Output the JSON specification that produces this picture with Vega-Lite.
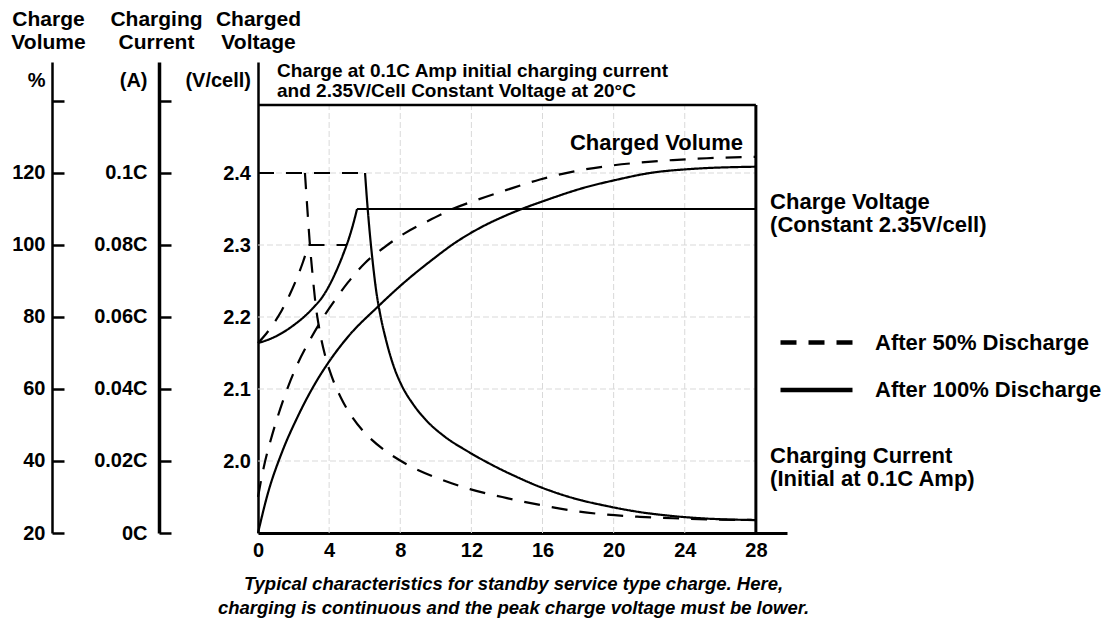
{
  "$schema": "https://vega.github.io/schema/vega-lite/v6.json",
  "width": 529,
  "height": 471,
  "autosize": {"type": "none"},
  "padding": {"left": 258, "top": 62, "right": 325, "bottom": 96},
  "background": "white",
  "config": {
    "view": {"stroke": null},
    "font": "Liberation Sans",
    "axis": {"domainColor": "black", "tickColor": "black", "labelColor": "black", "titleColor": "black", "grid": false, "labelFont": "Liberation Sans", "titleFont": "Liberation Sans", "labelFontWeight": "bold", "titleFontWeight": "bold", "labelOverlap": false},
    "text": {"font": "Liberation Sans", "color": "black", "fontWeight": "bold"}
  },
  "datasets": {
    "curves": [
      {"quantity": "Charge Voltage", "discharge": "After 100% Discharge", "segment": "rise", "hours": 0, "value": 2.1639},
      {"quantity": "Charge Voltage", "discharge": "After 100% Discharge", "segment": "rise", "hours": 0.67, "value": 2.1694},
      {"quantity": "Charge Voltage", "discharge": "After 100% Discharge", "segment": "rise", "hours": 1.35, "value": 2.1778},
      {"quantity": "Charge Voltage", "discharge": "After 100% Discharge", "segment": "rise", "hours": 2.02, "value": 2.1889},
      {"quantity": "Charge Voltage", "discharge": "After 100% Discharge", "segment": "rise", "hours": 2.64, "value": 2.2014},
      {"quantity": "Charge Voltage", "discharge": "After 100% Discharge", "segment": "rise", "hours": 3.15, "value": 2.2139},
      {"quantity": "Charge Voltage", "discharge": "After 100% Discharge", "segment": "rise", "hours": 3.66, "value": 2.2292},
      {"quantity": "Charge Voltage", "discharge": "After 100% Discharge", "segment": "rise", "hours": 4.11, "value": 2.2486},
      {"quantity": "Charge Voltage", "discharge": "After 100% Discharge", "segment": "rise", "hours": 4.5, "value": 2.2694},
      {"quantity": "Charge Voltage", "discharge": "After 100% Discharge", "segment": "rise", "hours": 4.84, "value": 2.2903},
      {"quantity": "Charge Voltage", "discharge": "After 100% Discharge", "segment": "rise", "hours": 5.12, "value": 2.3097},
      {"quantity": "Charge Voltage", "discharge": "After 100% Discharge", "segment": "rise", "hours": 5.37, "value": 2.3306},
      {"quantity": "Charge Voltage", "discharge": "After 100% Discharge", "segment": "rise", "hours": 5.57, "value": 2.35},
      {"quantity": "Charge Voltage", "discharge": "After 100% Discharge", "segment": "flat", "hours": 5.57, "value": 2.35},
      {"quantity": "Charge Voltage", "discharge": "After 100% Discharge", "segment": "flat", "hours": 28, "value": 2.35},
      {"quantity": "Charge Voltage", "discharge": "After 50% Discharge", "segment": "rise", "hours": 0, "value": 2.1639},
      {"quantity": "Charge Voltage", "discharge": "After 50% Discharge", "segment": "rise", "hours": 0.45, "value": 2.1764},
      {"quantity": "Charge Voltage", "discharge": "After 50% Discharge", "segment": "rise", "hours": 0.9, "value": 2.1917},
      {"quantity": "Charge Voltage", "discharge": "After 50% Discharge", "segment": "rise", "hours": 1.35, "value": 2.2097},
      {"quantity": "Charge Voltage", "discharge": "After 50% Discharge", "segment": "rise", "hours": 1.8, "value": 2.2319},
      {"quantity": "Charge Voltage", "discharge": "After 50% Discharge", "segment": "rise", "hours": 2.19, "value": 2.2542},
      {"quantity": "Charge Voltage", "discharge": "After 50% Discharge", "segment": "rise", "hours": 2.53, "value": 2.2764},
      {"quantity": "Charge Voltage", "discharge": "After 50% Discharge", "segment": "rise", "hours": 2.84, "value": 2.3},
      {"quantity": "Charge Voltage", "discharge": "After 50% Discharge", "segment": "flat", "hours": 2.84, "value": 2.3},
      {"quantity": "Charge Voltage", "discharge": "After 50% Discharge", "segment": "flat", "hours": 4.96, "value": 2.3},

      {"quantity": "Charging Current", "discharge": "After 50% Discharge", "segment": "flat", "hours": 0, "value": 0.1},
      {"quantity": "Charging Current", "discharge": "After 50% Discharge", "segment": "flat", "hours": 6.02, "value": 0.1},
      {"quantity": "Charging Current", "discharge": "After 50% Discharge", "segment": "decay", "hours": 2.64, "value": 0.1},
      {"quantity": "Charging Current", "discharge": "After 50% Discharge", "segment": "decay", "hours": 2.78, "value": 0.0897},
      {"quantity": "Charging Current", "discharge": "After 50% Discharge", "segment": "decay", "hours": 2.92, "value": 0.08},
      {"quantity": "Charging Current", "discharge": "After 50% Discharge", "segment": "decay", "hours": 3.07, "value": 0.0717},
      {"quantity": "Charging Current", "discharge": "After 50% Discharge", "segment": "decay", "hours": 3.23, "value": 0.0639},
      {"quantity": "Charging Current", "discharge": "After 50% Discharge", "segment": "decay", "hours": 3.46, "value": 0.0564},
      {"quantity": "Charging Current", "discharge": "After 50% Discharge", "segment": "decay", "hours": 3.77, "value": 0.0494},
      {"quantity": "Charging Current", "discharge": "After 50% Discharge", "segment": "decay", "hours": 4.16, "value": 0.0433},
      {"quantity": "Charging Current", "discharge": "After 50% Discharge", "segment": "decay", "hours": 4.67, "value": 0.0375},
      {"quantity": "Charging Current", "discharge": "After 50% Discharge", "segment": "decay", "hours": 5.34, "value": 0.0319},
      {"quantity": "Charging Current", "discharge": "After 50% Discharge", "segment": "decay", "hours": 6.19, "value": 0.0269},
      {"quantity": "Charging Current", "discharge": "After 50% Discharge", "segment": "decay", "hours": 7.26, "value": 0.0225},
      {"quantity": "Charging Current", "discharge": "After 50% Discharge", "segment": "decay", "hours": 8.55, "value": 0.0186},
      {"quantity": "Charging Current", "discharge": "After 50% Discharge", "segment": "decay", "hours": 10.07, "value": 0.0153},
      {"quantity": "Charging Current", "discharge": "After 50% Discharge", "segment": "decay", "hours": 11.92, "value": 0.0122},
      {"quantity": "Charging Current", "discharge": "After 50% Discharge", "segment": "decay", "hours": 14.0, "value": 0.0097},
      {"quantity": "Charging Current", "discharge": "After 50% Discharge", "segment": "decay", "hours": 15.86, "value": 0.0078},
      {"quantity": "Charging Current", "discharge": "After 50% Discharge", "segment": "decay", "hours": 17.72, "value": 0.0062},
      {"quantity": "Charging Current", "discharge": "After 50% Discharge", "segment": "decay", "hours": 19.61, "value": 0.0051},
      {"quantity": "Charging Current", "discharge": "After 50% Discharge", "segment": "decay", "hours": 21.48, "value": 0.0045},
      {"quantity": "Charging Current", "discharge": "After 50% Discharge", "segment": "decay", "hours": 23.34, "value": 0.0041},
      {"quantity": "Charging Current", "discharge": "After 50% Discharge", "segment": "decay", "hours": 25.24, "value": 0.0038},
      {"quantity": "Charging Current", "discharge": "After 50% Discharge", "segment": "decay", "hours": 28, "value": 0.0036},
      {"quantity": "Charging Current", "discharge": "After 100% Discharge", "segment": "decay", "hours": 6.02, "value": 0.1},
      {"quantity": "Charging Current", "discharge": "After 100% Discharge", "segment": "decay", "hours": 6.13, "value": 0.0925},
      {"quantity": "Charging Current", "discharge": "After 100% Discharge", "segment": "decay", "hours": 6.27, "value": 0.0842},
      {"quantity": "Charging Current", "discharge": "After 100% Discharge", "segment": "decay", "hours": 6.44, "value": 0.0758},
      {"quantity": "Charging Current", "discharge": "After 100% Discharge", "segment": "decay", "hours": 6.64, "value": 0.0675},
      {"quantity": "Charging Current", "discharge": "After 100% Discharge", "segment": "decay", "hours": 6.89, "value": 0.0603},
      {"quantity": "Charging Current", "discharge": "After 100% Discharge", "segment": "decay", "hours": 7.2, "value": 0.0536},
      {"quantity": "Charging Current", "discharge": "After 100% Discharge", "segment": "decay", "hours": 7.59, "value": 0.0469},
      {"quantity": "Charging Current", "discharge": "After 100% Discharge", "segment": "decay", "hours": 8.1, "value": 0.0408},
      {"quantity": "Charging Current", "discharge": "After 100% Discharge", "segment": "decay", "hours": 8.72, "value": 0.0358},
      {"quantity": "Charging Current", "discharge": "After 100% Discharge", "segment": "decay", "hours": 9.5, "value": 0.0311},
      {"quantity": "Charging Current", "discharge": "After 100% Discharge", "segment": "decay", "hours": 10.52, "value": 0.0267},
      {"quantity": "Charging Current", "discharge": "After 100% Discharge", "segment": "decay", "hours": 11.75, "value": 0.0228},
      {"quantity": "Charging Current", "discharge": "After 100% Discharge", "segment": "decay", "hours": 13.05, "value": 0.0192},
      {"quantity": "Charging Current", "discharge": "After 100% Discharge", "segment": "decay", "hours": 14.45, "value": 0.0158},
      {"quantity": "Charging Current", "discharge": "After 100% Discharge", "segment": "decay", "hours": 15.86, "value": 0.0128},
      {"quantity": "Charging Current", "discharge": "After 100% Discharge", "segment": "decay", "hours": 17.72, "value": 0.0097},
      {"quantity": "Charging Current", "discharge": "After 100% Discharge", "segment": "decay", "hours": 19.61, "value": 0.0075},
      {"quantity": "Charging Current", "discharge": "After 100% Discharge", "segment": "decay", "hours": 21.48, "value": 0.0058},
      {"quantity": "Charging Current", "discharge": "After 100% Discharge", "segment": "decay", "hours": 23.34, "value": 0.0047},
      {"quantity": "Charging Current", "discharge": "After 100% Discharge", "segment": "decay", "hours": 25.24, "value": 0.004},
      {"quantity": "Charging Current", "discharge": "After 100% Discharge", "segment": "decay", "hours": 28, "value": 0.0036},

      {"quantity": "Charged Volume", "discharge": "After 100% Discharge", "segment": "main", "hours": 0, "value": 20},
      {"quantity": "Charged Volume", "discharge": "After 100% Discharge", "segment": "main", "hours": 0.56, "value": 31.1},
      {"quantity": "Charged Volume", "discharge": "After 100% Discharge", "segment": "main", "hours": 1.33, "value": 42.2},
      {"quantity": "Charged Volume", "discharge": "After 100% Discharge", "segment": "main", "hours": 2.25, "value": 52.5},
      {"quantity": "Charged Volume", "discharge": "After 100% Discharge", "segment": "main", "hours": 3.21, "value": 61.5},
      {"quantity": "Charged Volume", "discharge": "After 100% Discharge", "segment": "main", "hours": 3.94, "value": 67.2},
      {"quantity": "Charged Volume", "discharge": "After 100% Discharge", "segment": "main", "hours": 5.06, "value": 74.5},
      {"quantity": "Charged Volume", "discharge": "After 100% Discharge", "segment": "main", "hours": 6.75, "value": 82.9},
      {"quantity": "Charged Volume", "discharge": "After 100% Discharge", "segment": "main", "hours": 8.27, "value": 89.8},
      {"quantity": "Charged Volume", "discharge": "After 100% Discharge", "segment": "main", "hours": 9.77, "value": 95.8},
      {"quantity": "Charged Volume", "discharge": "After 100% Discharge", "segment": "main", "hours": 11.08, "value": 100.6},
      {"quantity": "Charged Volume", "discharge": "After 100% Discharge", "segment": "main", "hours": 12.5, "value": 104.8},
      {"quantity": "Charged Volume", "discharge": "After 100% Discharge", "segment": "main", "hours": 13.99, "value": 108.3},
      {"quantity": "Charged Volume", "discharge": "After 100% Discharge", "segment": "main", "hours": 16.4, "value": 112.8},
      {"quantity": "Charged Volume", "discharge": "After 100% Discharge", "segment": "main", "hours": 18.26, "value": 115.8},
      {"quantity": "Charged Volume", "discharge": "After 100% Discharge", "segment": "main", "hours": 20.15, "value": 118.1},
      {"quantity": "Charged Volume", "discharge": "After 100% Discharge", "segment": "main", "hours": 22.04, "value": 120.0},
      {"quantity": "Charged Volume", "discharge": "After 100% Discharge", "segment": "main", "hours": 24.3, "value": 121.1},
      {"quantity": "Charged Volume", "discharge": "After 100% Discharge", "segment": "main", "hours": 28, "value": 121.75},
      {"quantity": "Charged Volume", "discharge": "After 50% Discharge", "segment": "main", "hours": 0, "value": 30.0},
      {"quantity": "Charged Volume", "discharge": "After 50% Discharge", "segment": "main", "hours": 0.22, "value": 35.8},
      {"quantity": "Charged Volume", "discharge": "After 50% Discharge", "segment": "main", "hours": 0.39, "value": 39.7},
      {"quantity": "Charged Volume", "discharge": "After 50% Discharge", "segment": "main", "hours": 0.67, "value": 45.0},
      {"quantity": "Charged Volume", "discharge": "After 50% Discharge", "segment": "main", "hours": 1.12, "value": 52.5},
      {"quantity": "Charged Volume", "discharge": "After 50% Discharge", "segment": "main", "hours": 1.69, "value": 60.6},
      {"quantity": "Charged Volume", "discharge": "After 50% Discharge", "segment": "main", "hours": 2.25, "value": 67.2},
      {"quantity": "Charged Volume", "discharge": "After 50% Discharge", "segment": "main", "hours": 2.92, "value": 73.6},
      {"quantity": "Charged Volume", "discharge": "After 50% Discharge", "segment": "main", "hours": 3.58, "value": 79.2},
      {"quantity": "Charged Volume", "discharge": "After 50% Discharge", "segment": "main", "hours": 4.33, "value": 84.7},
      {"quantity": "Charged Volume", "discharge": "After 50% Discharge", "segment": "main", "hours": 5.06, "value": 89.6},
      {"quantity": "Charged Volume", "discharge": "After 50% Discharge", "segment": "main", "hours": 6.02, "value": 95.0},
      {"quantity": "Charged Volume", "discharge": "After 50% Discharge", "segment": "main", "hours": 7.14, "value": 99.5},
      {"quantity": "Charged Volume", "discharge": "After 50% Discharge", "segment": "main", "hours": 8.27, "value": 103.3},
      {"quantity": "Charged Volume", "discharge": "After 50% Discharge", "segment": "main", "hours": 9.77, "value": 107.2},
      {"quantity": "Charged Volume", "discharge": "After 50% Discharge", "segment": "main", "hours": 10.8, "value": 109.7},
      {"quantity": "Charged Volume", "discharge": "After 50% Discharge", "segment": "main", "hours": 12.3, "value": 112.5},
      {"quantity": "Charged Volume", "discharge": "After 50% Discharge", "segment": "main", "hours": 13.99, "value": 115.3},
      {"quantity": "Charged Volume", "discharge": "After 50% Discharge", "segment": "main", "hours": 15.86, "value": 118.2},
      {"quantity": "Charged Volume", "discharge": "After 50% Discharge", "segment": "main", "hours": 17.72, "value": 120.4},
      {"quantity": "Charged Volume", "discharge": "After 50% Discharge", "segment": "main", "hours": 19.61, "value": 121.9},
      {"quantity": "Charged Volume", "discharge": "After 50% Discharge", "segment": "main", "hours": 21.48, "value": 122.9},
      {"quantity": "Charged Volume", "discharge": "After 50% Discharge", "segment": "main", "hours": 23.34, "value": 123.6},
      {"quantity": "Charged Volume", "discharge": "After 50% Discharge", "segment": "main", "hours": 25.24, "value": 124.1},
      {"quantity": "Charged Volume", "discharge": "After 50% Discharge", "segment": "main", "hours": 28, "value": 124.5}
    ],
    "gridHours": [{"hours": 4}, {"hours": 8}, {"hours": 12}, {"hours": 16}, {"hours": 20}, {"hours": 24}],
    "gridVolts": [{"value": 2.0}, {"value": 2.1}, {"value": 2.2}, {"value": 2.3}, {"value": 2.4}]
  },
  "resolve": {"scale": {"y": "independent"}},
  "layer": [
    {
      "layer": [
        {
          "data": {"name": "gridHours"},
          "mark": {"type": "rule", "color": "#d9d9d9", "strokeWidth": 1, "strokeDash": [6, 3]},
          "encoding": {
            "x": {"field": "hours", "type": "quantitative", "scale": {"domain": [0, 29.75], "nice": false, "zero": false}},
            "y": {"datum": 1.9, "type": "quantitative", "scale": {"domain": [1.9, 2.55417], "nice": false, "zero": false}},
            "y2": {"datum": 2.4944}
          }
        },
        {
          "data": {"name": "gridVolts"},
          "mark": {"type": "rule", "color": "#d9d9d9", "strokeWidth": 1, "strokeDash": [6, 3]},
          "encoding": {
            "y": {"field": "value", "type": "quantitative", "scale": {"domain": [1.9, 2.55417], "nice": false, "zero": false}},
            "x": {"datum": 0, "type": "quantitative", "scale": {"domain": [0, 29.75], "nice": false, "zero": false}},
            "x2": {"datum": 28}
          }
        },
        {
          "data": {"values": [{}]},
          "mark": {"type": "rule", "color": "black", "strokeWidth": 2.5},
          "encoding": {
            "x": {"datum": 0, "type": "quantitative", "scale": {"domain": [0, 29.75], "nice": false, "zero": false}},
            "x2": {"datum": 28},
            "y": {"datum": 2.4944, "type": "quantitative", "scale": {"domain": [1.9, 2.55417], "nice": false, "zero": false}}
          }
        },
        {
          "data": {"values": [{}]},
          "mark": {"type": "rule", "color": "black", "strokeWidth": 3},
          "encoding": {
            "x": {"datum": 28, "type": "quantitative", "scale": {"domain": [0, 29.75], "nice": false, "zero": false}},
            "y": {"datum": 1.9, "type": "quantitative", "scale": {"domain": [1.9, 2.55417], "nice": false, "zero": false}},
            "y2": {"datum": 2.4944}
          }
        },
        {
          "data": {"name": "curves"},
          "transform": [{"filter": "datum.quantity === 'Charge Voltage'"}],
          "mark": {"type": "line", "color": "black", "strokeWidth": 2.2, "interpolate": "monotone"},
          "encoding": {
            "x": {
              "field": "hours", "type": "quantitative",
              "scale": {"domain": [0, 29.75], "nice": false, "zero": false},
              "axis": {
                "values": [0, 4, 8, 12, 16, 20, 24, 28], "ticks": false, "grid": false, "labelPadding": 7, "labelFontSize": 20, "labelFlush": false, "domainWidth": 3,
                "title": ["Typical characteristics for standby service type charge. Here,", "charging is continuous and the peak charge voltage must be lower."],
                "titleFont": "Liberation Sans", "titleFontStyle": "italic", "titleFontWeight": "bold", "titleFontSize": 18.5, "titleLineHeight": 24,
                "titleX": 255, "titleY": 41, "titleAlign": "center", "titleBaseline": "top"
              }
            },
            "y": {
              "field": "value", "type": "quantitative",
              "scale": {"domain": [1.9, 2.55417], "nice": false, "zero": false},
              "axis": {
                "orient": "left", "offset": 0, "values": [2.0, 2.1, 2.2, 2.3, 2.4, 2.529],
                "labelExpr": "datum.value > 2.5 ? '(V/cell)' : format(datum.value, '.1f')",
                "ticks": false, "grid": false, "labelPadding": 7.5, "labelFontSize": 20, "domainWidth": 2.5,
                "title": ["Charged", "Voltage"], "titleAngle": 0, "titleAlign": "center", "titleBaseline": "top",
                "titleX": 0, "titleY": -54, "titleFontSize": 21, "titleLineHeight": 23
              }
            },
            "strokeDash": {
              "field": "discharge", "type": "nominal",
              "scale": {"domain": ["After 50% Discharge", "After 100% Discharge"], "range": [[16, 12], [1, 0]]},
              "legend": {
                "orient": "none", "legendX": 520, "legendY": 268.5, "title": null, "padding": 0,
                "symbolType": "stroke", "symbolSize": 5184, "symbolStrokeWidth": 4.5, "symbolStrokeColor": "black",
                "labelFont": "Liberation Sans", "labelFontSize": 22, "labelFontWeight": "bold", "labelColor": "black",
                "labelOffset": 20, "rowPadding": 23.5, "clipHeight": 24, "labelLimit": 400
              }
            },
            "detail": {"field": "segment"}
          }
        },
        {
          "data": {"values": [{}]},
          "mark": {"type": "text", "align": "left", "baseline": "top", "fontSize": 19, "lineHeight": 19.5},
          "encoding": {
            "x": {"datum": 1.07, "type": "quantitative", "scale": {"domain": [0, 29.75], "nice": false, "zero": false}},
            "y": {"datum": 2.5536, "type": "quantitative", "scale": {"domain": [1.9, 2.55417], "nice": false, "zero": false}},
            "text": {"value": ["Charge at 0.1C Amp initial charging current", "and 2.35V/Cell Constant Voltage at 20°C"]}
          }
        },
        {
          "data": {"values": [{}]},
          "mark": {"type": "text", "align": "right", "baseline": "alphabetic", "fontSize": 22},
          "encoding": {
            "x": {"datum": 27.28, "type": "quantitative", "scale": {"domain": [0, 29.75], "nice": false, "zero": false}},
            "y": {"datum": 2.4319, "type": "quantitative", "scale": {"domain": [1.9, 2.55417], "nice": false, "zero": false}},
            "text": {"value": "Charged Volume"}
          }
        },
        {
          "data": {"values": [{}]},
          "mark": {"type": "text", "align": "left", "baseline": "top", "fontSize": 22, "lineHeight": 23},
          "encoding": {
            "x": {"datum": 28.8, "type": "quantitative", "scale": {"domain": [0, 29.75], "nice": false, "zero": false}},
            "y": {"datum": 2.3735, "type": "quantitative", "scale": {"domain": [1.9, 2.55417], "nice": false, "zero": false}},
            "text": {"value": ["Charge Voltage", "(Constant 2.35V/cell)"]}
          }
        },
        {
          "data": {"values": [{}]},
          "mark": {"type": "text", "align": "left", "baseline": "top", "fontSize": 22, "lineHeight": 23},
          "encoding": {
            "x": {"datum": 28.8, "type": "quantitative", "scale": {"domain": [0, 29.75], "nice": false, "zero": false}},
            "y": {"datum": 2.021, "type": "quantitative", "scale": {"domain": [1.9, 2.55417], "nice": false, "zero": false}},
            "text": {"value": ["Charging Current", "(Initial at 0.1C Amp)"]}
          }
        }
      ]
    },
    {
      "data": {"name": "curves"},
      "transform": [{"filter": "datum.quantity === 'Charged Volume'"}],
      "mark": {"type": "line", "color": "black", "strokeWidth": 2.2, "interpolate": "monotone"},
      "encoding": {
        "x": {"field": "hours", "type": "quantitative", "scale": {"domain": [0, 29.75], "nice": false, "zero": false}},
        "y": {
          "field": "value", "type": "quantitative",
          "scale": {"domain": [20, 150.833], "nice": false, "zero": false},
          "axis": {
            "orient": "left", "offset": 206, "values": [20, 40, 60, 80, 100, 120, 140, 145.8],
            "labelExpr": "datum.value > 145 ? '%' : datum.value == 140 ? '' : datum.label",
            "tickSize": -12, "tickWidth": 2.5,
            "tickColor": {"condition": {"test": "datum.value > 145", "value": "transparent"}, "value": "black"},
            "labelPadding": 19, "labelFontSize": 20, "domainWidth": 2.5,
            "title": ["Charge", "Volume"], "titleAngle": 0, "titleAlign": "center", "titleBaseline": "top",
            "titleX": -4, "titleY": -54, "titleFontSize": 21, "titleLineHeight": 23
          }
        },
        "strokeDash": {"field": "discharge", "type": "nominal", "scale": {"domain": ["After 50% Discharge", "After 100% Discharge"], "range": [[16, 12], [1, 0]]}},
        "detail": {"field": "segment"}
      }
    },
    {
      "data": {"name": "curves"},
      "transform": [{"filter": "datum.quantity === 'Charging Current'"}],
      "mark": {"type": "line", "color": "black", "strokeWidth": 2.2, "interpolate": "monotone"},
      "encoding": {
        "x": {"field": "hours", "type": "quantitative", "scale": {"domain": [0, 29.75], "nice": false, "zero": false}},
        "y": {
          "field": "value", "type": "quantitative",
          "scale": {"domain": [0, 0.130833], "nice": false, "zero": false},
          "axis": {
            "orient": "left", "offset": 99, "values": [0, 0.02, 0.04, 0.06, 0.08, 0.1, 0.12, 0.1258],
            "labelExpr": "datum.value > 0.125 ? '(A)' : datum.value > 0.11 ? '' : datum.value + 'C'",
            "tickSize": -12, "tickWidth": 2.5,
            "tickColor": {"condition": {"test": "datum.value > 0.125", "value": "transparent"}, "value": "black"},
            "labelPadding": 24, "labelFontSize": 20, "domainWidth": 3.5,
            "title": ["Charging", "Current"], "titleAngle": 0, "titleAlign": "center", "titleBaseline": "top",
            "titleX": -3, "titleY": -54, "titleFontSize": 21, "titleLineHeight": 23
          }
        },
        "strokeDash": {"field": "discharge", "type": "nominal", "scale": {"domain": ["After 50% Discharge", "After 100% Discharge"], "range": [[16, 12], [1, 0]]}},
        "detail": {"field": "segment"}
      }
    }
  ]
}
